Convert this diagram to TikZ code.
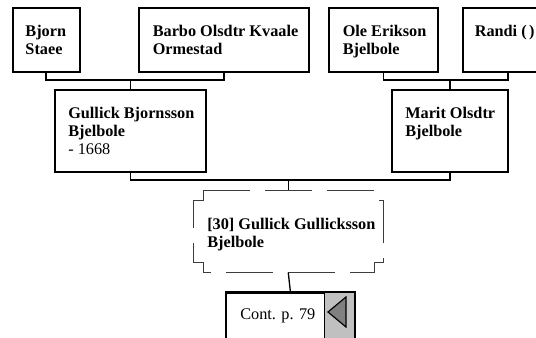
\documentclass[tikz,border=0pt]{standalone}
\usepackage{fontspec}
\setmainfont{Liberation Serif}
\usetikzlibrary{calc}
\newcommand\plines[1]{\begin{tabular}[t]{@{}l@{}}#1\end{tabular}}
\definecolor{silverfill}{RGB}{192,192,192}
\definecolor{trifill}{RGB}{128,128,128}
\definecolor{dashcol}{RGB}{60,60,60}
\begin{document}
\begin{tikzpicture}[x=0.75pt,y=-0.75pt,
  pbox/.style={draw, line width=1.4pt, anchor=north west, inner sep=0pt},
  ptext/.style={anchor=base west, inner sep=0pt, font=\fontsize{12.2}{13.7}\selectfont\bfseries},
  ctext/.style={anchor=base west, inner sep=0pt, font=\fontsize{12.2}{13.7}\selectfont},
  conn/.style={line width=1.4pt},
  thinconn/.style={line width=1pt},
  dbox/.style={draw=dashcol, line width=0.75pt, dash pattern=on 35.25pt off 11.25pt}]
\clip (0,0) rectangle (536,337);
% top row
\node[pbox, minimum width=67.3*0.75pt, minimum height=64*0.75pt] (bjorn) at (11.7,7) {};
\node[pbox, minimum width=170*0.75pt, minimum height=64*0.75pt] (barbo) at (138,7) {};
\node[pbox, minimum width=109*0.75pt, minimum height=64*0.75pt] (ole) at (328,7) {};
\node[pbox, minimum width=90*0.75pt, minimum height=64*0.75pt] (randi) at (462,7) {};
\node[ptext] (bjorn-t) at ($(bjorn.north west)+(13.5,29)$) {\plines{Bjorn\\Staee}};
\node[ptext] (barbo-t) at ($(barbo.north west)+(14.5,29)$) {\plines{Barbo Olsdtr Kvaale\\Ormestad}};
\node[ptext] (ole-t) at ($(ole.north west)+(14.5,29)$) {\plines{Ole Erikson\\Bjelbole}};
\node[ptext] (randi-t) at ($(randi.north west)+(12.5,29)$) {\plines{Randi (\kern0.15em)}};
% second row
\node[pbox, minimum width=151*0.75pt, minimum height=82*0.75pt] (gullick) at (54,89) {};
\node[pbox, minimum width=116*0.75pt, minimum height=82*0.75pt] (marit) at (391,89) {};
\node[ptext] (gullick-t) at ($(gullick.north west)+(14,29)$) {\plines{Gullick Bjornsson\\Bjelbole\\\mdseries - 1668}};
\node[ptext] (marit-t) at ($(marit.north west)+(14,29)$) {\plines{Marit Olsdtr\\Bjelbole}};
% child
\node[inner sep=0pt, anchor=north west, minimum width=190*0.75pt, minimum height=82*0.75pt] (child) at (193,190) {};
\draw[dbox] (203,190) -- (374,190) -- (374,200) -- (383,200) -- (383,262) -- (374,262)
  -- (374,272) -- (203,272) -- (203,262) -- (193,262) -- (193,200) -- (203,200) -- cycle;
\node[ptext] (child-t) at (207,229) {\plines{[30] Gullick Gullicksson\\Bjelbole}};
% continuation
\node[pbox, minimum width=129*0.75pt, minimum height=60*0.75pt] (cont) at (225,292) {};
\node[pbox, fill=silverfill, line width=1pt, minimum width=30*0.75pt, minimum height=60*0.75pt] (contarrow) at (324,292) {};
\draw[line width=0.9pt, fill=trifill] (328,312) -- (346,297) -- (346,327) -- cycle;
\draw[line width=1.4pt] (cont.north west) -- (cont.north east);
\node[ctext] (cont-t) at (240,319) {Cont. p. 79};
% connectors
\coordinate (r1) at (0,80);
\coordinate (r2) at (0,180);
\draw[conn] (bjorn.south) |- (barbo.south |- r1) -- (barbo.south);
\draw[conn] (gullick.north |- r1) -- (gullick.north);
\draw[conn] (ole.south) |- (randi.south |- r1) -- (randi.south);
\draw[conn] (marit.north |- r1) -- (marit.north);
\draw[conn] (gullick.south) |- (marit.south |- r2) -- (marit.south);
\draw[thinconn] (child.north |- r2) -- (child.north);
\draw[thinconn] (child.south) -- (cont.north);
\end{tikzpicture}
\end{document}
